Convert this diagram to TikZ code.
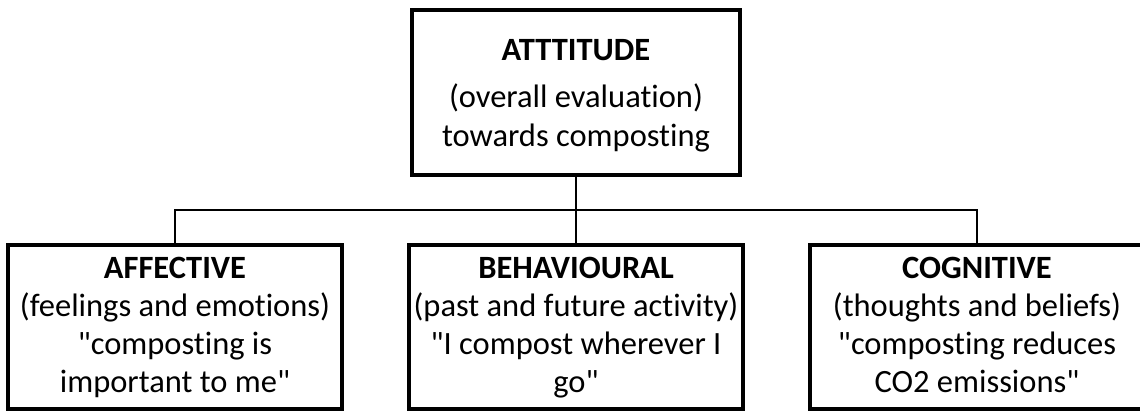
\documentclass[tikz,border=0pt]{standalone}
\usepackage{fontspec}
\setmainfont{Carlito}[Ligatures={TeXOff,NoCommon}]
\begin{document}
\begin{tikzpicture}[x=1pt,y=-1pt]
\tikzset{
  box/.style={draw=black, fill=white, line width=4pt, rectangle, inner sep=0pt, outer sep=0pt, minimum height=164pt},
  conn/.style={draw=black, line width=2.6pt},
  ttl/.style={anchor=base, inner sep=0pt, font=\fontsize{32.5}{38}\selectfont\bfseries},
  txt/.style={anchor=base, inner sep=0pt, font=\fontsize{32.5}{38}\selectfont},
}
\useasboundingbox (0,0) rectangle (1140,410);
\fill[white] (0,0) rectangle (1140,410);
\clip (0,0) rectangle (1140,410);

% boxes and tree connectors
\coordinate (bus) at (576,210);
\node[box, minimum width=328pt, minimum height=165pt] (att) at (576,92.5) {};
\node[box, minimum width=334pt] (aff) at (175,327) {};
\node[box, minimum width=334pt] (beh) at (576,327) {};
\node[box, minimum width=334pt] (cog) at (977,327) {};
\draw[conn] (att.south) -- (bus);
\draw[conn] (aff.north) |- (bus) -| (cog.north);
\draw[conn] (bus) -- (beh.north);

% top box
\node[ttl] (att-t) at (576,60) {ATTTITUDE};
\node[txt] (att-a) at (576,107) {(overall evaluation)};
\node[txt] (att-b) at (576,146) {towards composting};

% components
\node[ttl] (aff-t) at (175,278) {AFFECTIVE};
\node[txt] (aff-a) at (175,316) {(feelings and emotions)};
\node[txt] (aff-b) at (175,354) {"composting is};
\node[txt] (aff-c) at (175,392) {important to me"};

\node[ttl] (beh-t) at (576,278) {BEHAVIOURAL};
\node[txt] (beh-a) at (576,316) {(past and future activity)};
\node[txt] (beh-b) at (576,354) {"I compost wherever I};
\node[txt] (beh-c) at (576,392) {go"};

\node[ttl] (cog-t) at (977,278) {COGNITIVE};
\node[txt] (cog-a) at (977,316) {(thoughts and beliefs)};
\node[txt] (cog-b) at (977,354) {"composting reduces};
\node[txt] (cog-c) at (977,392) {CO2 emissions"};
\end{tikzpicture}
\end{document}
